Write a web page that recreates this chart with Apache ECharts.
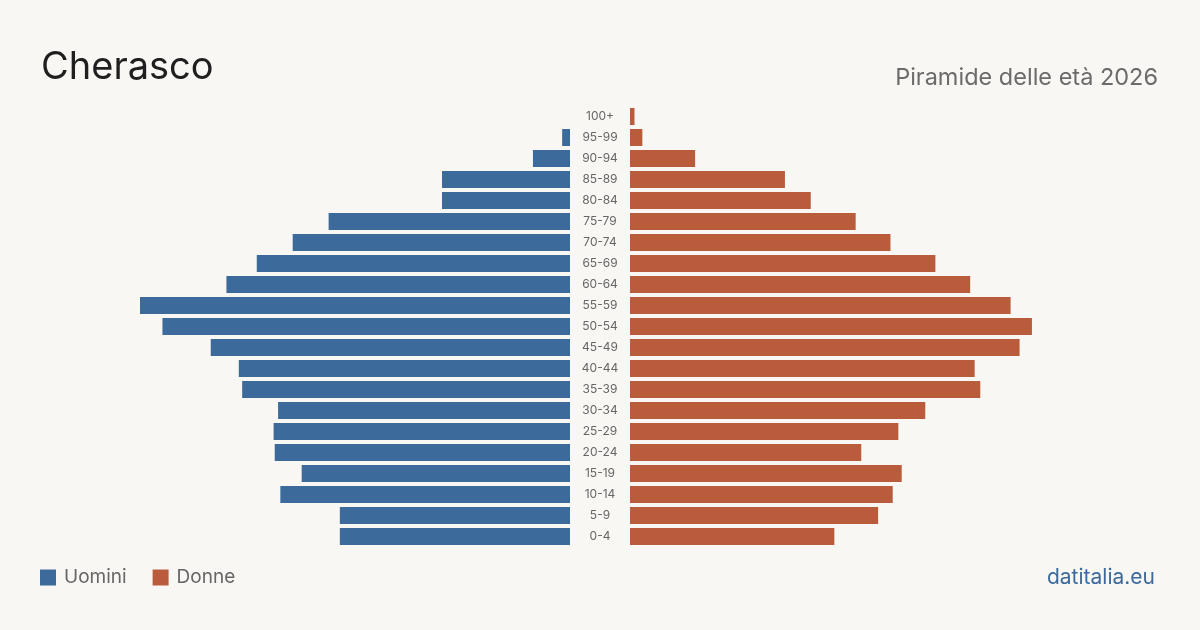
<!DOCTYPE html>
<html>
<head>
<meta charset="utf-8">
<script src="https://cdn.jsdelivr.net/npm/echarts@6/dist/echarts.min.js"></script>
<style>
  html, body { margin: 0; padding: 0; background: #f9f7f3; }
  #chart { width: 1200px; height: 630px; }
</style>
</head>
<body>
<div id="chart"></div>
<script>
  // age groups, youngest first
  const ageGroups = ['0-4', '5-9', '10-14', '15-19', '20-24', '25-29', '30-34', '35-39', '40-44', '45-49',
    '50-54', '55-59', '60-64', '65-69', '70-74', '75-79', '80-84', '85-89', '90-94', '95-99', '100+'];

  const men = [205, 205, 258, 239, 263, 264, 260, 292, 295, 320,
    363, 383, 306, 279, 247, 215, 114, 114, 33, 7, 0];

  const women = [182, 221, 234, 242, 206, 239, 263, 312, 307, 347,
    358, 339, 303, 272, 232, 201, 161, 138, 58, 11, 4];

  const axisMax = Math.max(...men, ...women);

  const blue = '#3b6a9b';
  const orange = '#b95c3c';
  const font = 'Inter, "Noto Sans", sans-serif';

  const chart = echarts.init(document.getElementById('chart'));

  const option = {
    backgroundColor: '#f9f7f3',
    animation: false,
    textStyle: { fontFamily: font },
    title: [
      {
        text: 'Cherasco',
        left: 36,
        top: 44,
        textStyle: { fontSize: 38, fontWeight: 'normal', color: '#1f1f1f', fontFamily: font }
      },
      {
        text: 'Piramide delle età 2026',
        right: 37,
        top: 61,
        textStyle: { fontSize: 23.5, fontWeight: 'normal', color: '#6b6b6b', fontFamily: font }
      },
      {
        text: 'datitalia.eu',
        right: 40,
        top: 562,
        textStyle: { fontSize: 21, fontWeight: 'normal', color: blue, fontFamily: font }
      }
    ],
    legend: {
      left: 40,
      top: 568,
      padding: 0,
      itemWidth: 16,
      itemHeight: 16,
      itemGap: 26,
      icon: 'rect',
      textStyle: { fontSize: 19, color: '#666', fontFamily: font, padding: [0, 0, 0, 3] },
      data: ['Uomini', 'Donne']
    },
    grid: [
      { left: 140, width: 430, top: 106, height: 441 },
      { left: 630, width: 430, top: 106, height: 441 }
    ],
    xAxis: [
      {
        gridIndex: 0, type: 'value', inverse: true, min: 0, max: axisMax,
        show: false
      },
      {
        gridIndex: 1, type: 'value', min: 0, max: axisMax,
        show: false
      }
    ],
    yAxis: [
      {
        gridIndex: 0, type: 'category', data: ageGroups,
        axisLine: { show: false }, axisTick: { show: false }, axisLabel: { show: false }
      },
      {
        gridIndex: 1, type: 'category', data: ageGroups, position: 'left',
        axisLine: { show: false }, axisTick: { show: false },
        axisLabel: { align: 'center', margin: 30, fontSize: 12, color: '#666', fontFamily: font, padding: [4, 0, 0, 0] }
      }
    ],
    series: [
      {
        name: 'Uomini', type: 'bar', xAxisIndex: 0, yAxisIndex: 0,
        data: men, barWidth: 17, itemStyle: { color: blue }
      },
      {
        name: 'Donne', type: 'bar', xAxisIndex: 1, yAxisIndex: 1,
        data: women, barWidth: 17, itemStyle: { color: orange }
      }
    ]
  };

  chart.setOption(option);
</script>
</body>
</html>
